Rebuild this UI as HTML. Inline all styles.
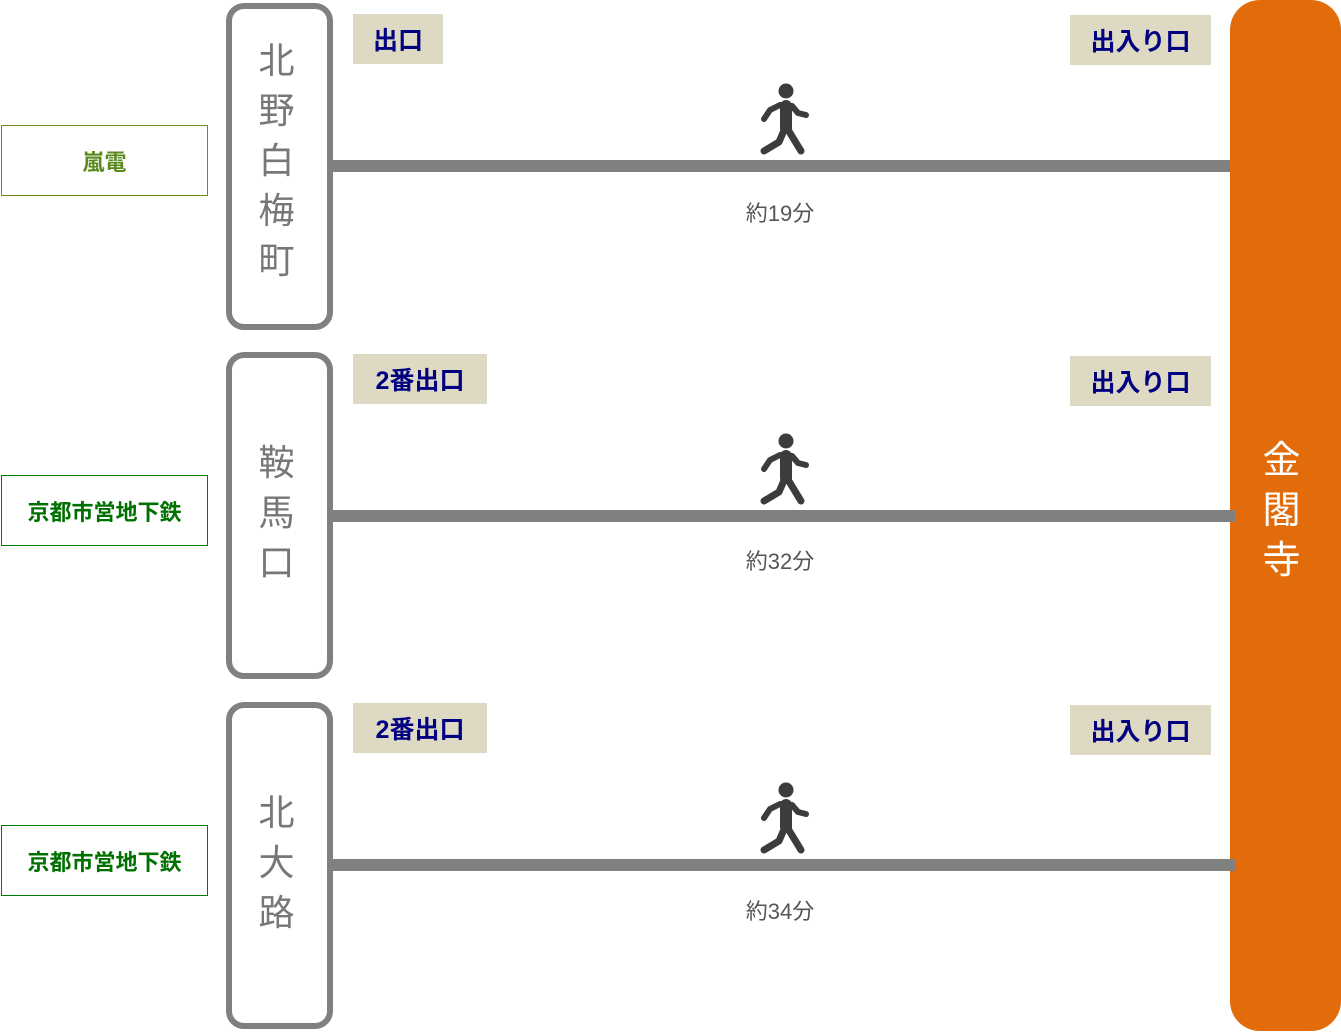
<!DOCTYPE html>
<html><head><meta charset="utf-8"><style>
body{margin:0;width:1341px;height:1032px;position:relative;background:#fff;overflow:hidden;font-family:"Liberation Sans","Noto Sans CJK JP",sans-serif}
.a{position:absolute;box-sizing:border-box}
.st{border:6px solid #808080;border-radius:18px;width:107px;left:226px;background:#fff;color:#777;font-size:36px;text-align:center;line-height:50px;padding-right:6px}
.lb{left:1px;width:207px;height:71px;display:flex;align-items:center;justify-content:center;font-size:22px;font-weight:bold}
.ln{height:12px;background:#808080;left:332px}
.tag{background:#ddd9c3;color:#000080;font-size:25px;font-weight:bold;display:flex;align-items:center;justify-content:center;height:50px}
.tm{left:700px;width:160px;text-align:center;font-size:22px;color:#555}
svg{position:absolute;left:0;top:0}
</style></head><body>
<div class="a" style="left:1230px;top:0;width:111px;height:1031px;background:#e36c0a;border-radius:30px;color:#fff;font-size:38px;text-align:center;line-height:50px;padding-top:436px;padding-right:8px">金<br>閣<br>寺</div>

<div class="a lb" style="top:125px;border:1px solid #6b8e23;color:#5a8a1e">嵐電</div>
<div class="a lb" style="top:475px;border:1px solid #008000;color:#007000">京都市営地下鉄</div>
<div class="a lb" style="top:825px;border:1px solid #008000;color:#007000">京都市営地下鉄</div>

<div class="a ln" style="top:160px;width:898px"></div>
<div class="a ln" style="top:510px;width:903px"></div>
<div class="a ln" style="top:859px;width:903px"></div>

<div class="a st" style="top:3px;height:327px;padding-top:27px">北<br>野<br>白<br>梅<br>町</div>
<div class="a st" style="top:352px;height:327px;padding-top:80px">鞍<br>馬<br>口</div>
<div class="a st" style="top:702px;height:327px;padding-top:80px">北<br>大<br>路</div>

<div class="a tag" style="left:353px;top:14px;width:90px">出口</div>
<div class="a tag" style="left:353px;top:354px;width:134px">2番出口</div>
<div class="a tag" style="left:353px;top:703px;width:134px">2番出口</div>
<div class="a tag" style="left:1070px;top:15px;width:141px">出入り口</div>
<div class="a tag" style="left:1070px;top:356px;width:141px">出入り口</div>
<div class="a tag" style="left:1070px;top:705px;width:141px">出入り口</div>

<div class="a tm" style="top:196px">約19分</div>
<div class="a tm" style="top:544px">約32分</div>
<div class="a tm" style="top:894px">約34分</div>

<svg width="1341" height="1032">
<defs><g id="w" fill="none" stroke="#3c3c3c" stroke-linecap="round" stroke-linejoin="round">
<circle cx="786" cy="91" r="7.5" fill="#3c3c3c" stroke="none"/>
<path d="M786 106 L786 128" stroke-width="12"/>
<path d="M764 119 L770 110 L780 105 L792 106 L798 113 L806 115" stroke-width="6"/>
<path d="M785 128 L779 142 L764 151" stroke-width="7"/>
<path d="M787 128 L801 151" stroke-width="7"/>
</g></defs>
<use href="#w"/>
<use href="#w" y="350"/>
<use href="#w" y="699"/>
</svg>
</body></html>
